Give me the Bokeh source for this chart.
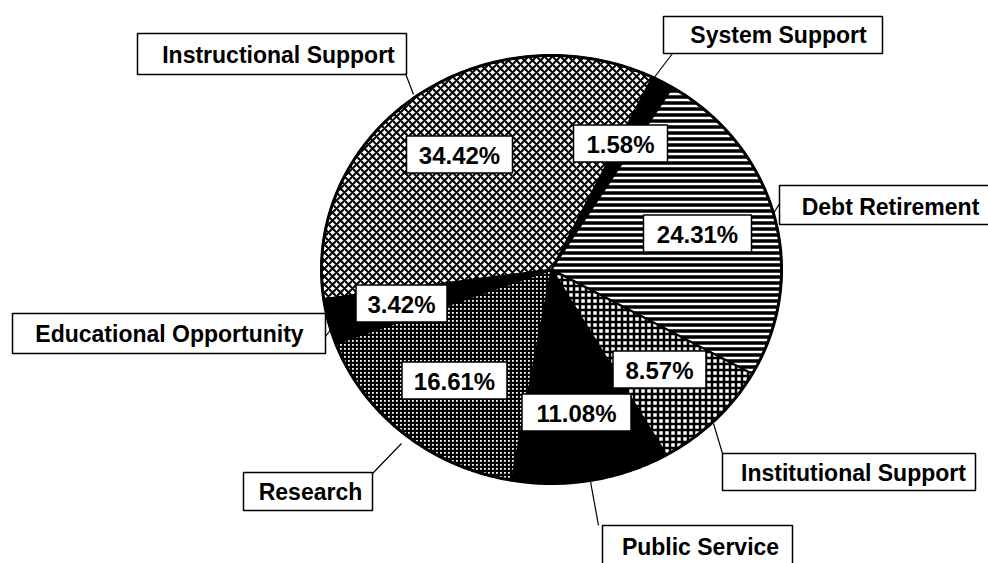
import numpy as np
from bokeh.plotting import figure
from bokeh.models import Range1d
from bokeh.embed import file_html
from bokeh.resources import INLINE
from bokeh.core.properties import value

# ---------------- data ----------------
categories = ["System Support", "Debt Retirement", "Institutional Support",
              "Public Service", "Research", "Educational Opportunity",
              "Instructional Support"]
shares = [1.58, 24.31, 8.57, 11.08, 16.61, 3.42, 34.42]

# ---------------- styles ----------------
fill_colors = ["black", "black", "white", "black", "white", "black", "white"]
hatch_patterns = [" ", "horizontal_line", "cross", " ", "cross", " ", "diagonal_cross"]
hatch_colors = ["black", "white", "black", "black", "black", "black", "black"]
hatch_scales = [6, 6, 6, 6, 4, 6, 8]
hatch_weights = [1, 2.5, 2.5, 1, 2.4, 1, 2]

# ---------------- layout (screen-like coordinates) ----------------
CX, CY, RX, RY = 551, 269, 230, 214
START_DEG = 26  # clockwise from 12 o'clock

pct_pos = [(620, 143), (697, 233), (659, 369), (576, 412),
           (454, 380), (401, 303), (459, 154)]
pct_box = [(94, 37), (108, 37), (93, 37), (109, 37),
           (105, 37), (91, 37), (106, 37)]

name_box = [(663, 882, 16, 53), (779, 995, 185, 224), (722, 975, 453, 490),
            (602, 792, 525, 570), (243, 372, 472, 510), (12, 325, 313, 353),
            (137, 406, 33, 74)]
name_pos = [(778, 34), (890, 206), (853, 472), (700, 546),
            (310, 491), (169, 333), (278, 54)]
leaders = [((653, 78), (672, 53)), ((773, 213), (779, 203)),
           ((713, 423), (722, 453)), ((590, 481), (598, 525)),
           ((401, 443), (372, 473)), ((337, 320), (325, 336)),
           ((413, 94), (405, 73))]

p = figure(width=988, height=563, x_range=Range1d(0, 988), y_range=Range1d(563, 0),
           output_backend="svg", toolbar_location=None, min_border=0,
           x_axis_type=None, y_axis_type=None)
p.grid.visible = False
p.outline_line_color = None
p.background_fill_color = "white"

total = sum(shares)
cum = 0.0
for i, v in enumerate(shares):
    a0 = np.radians(START_DEG + 360.0 * cum / total)
    a1 = np.radians(START_DEG + 360.0 * (cum + v) / total)
    cum += v
    t = np.linspace(a0, a1, 120)
    xs = [CX] + list(CX + RX * np.sin(t)) + [CX]
    ys = [CY] + list(CY - RY * np.cos(t)) + [CY]
    p.patch(xs, ys, fill_color=fill_colors[i], line_color="black", line_width=2,
            hatch_pattern=hatch_patterns[i], hatch_color=hatch_colors[i],
            hatch_scale=hatch_scales[i], hatch_weight=hatch_weights[i])

t = np.linspace(0, 2 * np.pi, 400)
p.line(CX + RX * np.sin(t), CY - RY * np.cos(t), line_color="black", line_width=3)

# percent labels
for i, v in enumerate(shares):
    x, y = pct_pos[i]
    w, h = pct_box[i]
    p.quad(left=x - w / 2, right=x + w / 2, top=y - h / 2, bottom=y + h / 2,
           fill_color="white", line_color="black", line_width=1.5)
    p.text(x=[x], y=[y + 1], text=[f"{v:.2f}%"], text_font=value("Liberation Sans"),
           text_font_style="bold", text_font_size="24px", text_align="center",
           text_baseline="middle", text_color="black")

# category labels
for i, name in enumerate(categories):
    l, r, tp, b = name_box[i]
    p.quad(left=l, right=r, top=tp, bottom=b, fill_color="white",
           line_color="black", line_width=1.5)
    x, y = name_pos[i]
    p.text(x=[x], y=[y], text=[name], text_font=value("Liberation Sans"),
           text_font_style="bold", text_font_size="23px", text_align="center",
           text_baseline="middle", text_color="black")
    (x0, y0), (x1, y1) = leaders[i]
    p.line([x0, x1], [y0, y1], line_color="black", line_width=1.2)

open("out.html", "w").write(file_html(p, INLINE))
